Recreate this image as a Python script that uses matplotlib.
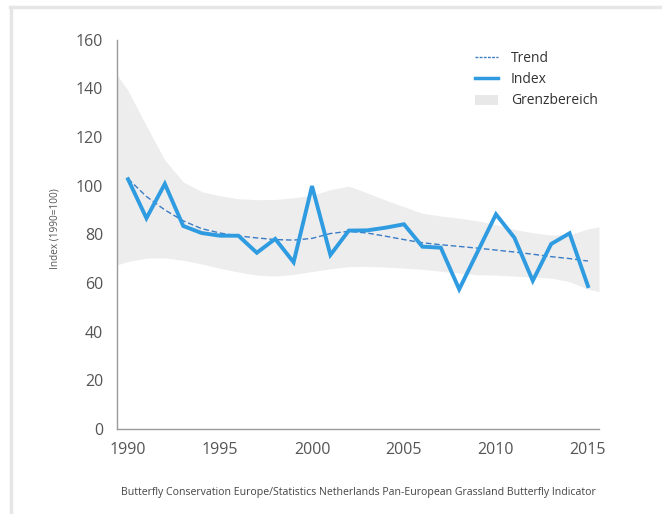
import matplotlib
matplotlib.use("Agg")
import matplotlib.pyplot as plt
from matplotlib.lines import Line2D
from matplotlib.patches import Patch
import numpy as np

years = list(range(1990, 2016))
index_vals = [102.6, 86.6, 100.7, 83.4, 80.5, 79.4, 79.4, 72.4, 78.1, 68.5,
              99.8, 71.5, 81.5, 81.6, 82.7, 84.1, 74.9, 74.5, 57.4, 72.8,
              88.2, 78.6, 60.9, 76.0, 80.4, 58.7]
trend_vals = [102.8, 95.5, 90.0, 85.5, 82.3, 80.5, 79.3, 78.5, 77.8, 77.6,
              78.3, 80.3, 81.2, 80.5, 79.2, 77.8, 76.5, 75.7, 75.0, 74.3,
              73.5, 72.7, 71.8, 70.8, 70.0, 69.0]
band_years = [1989.4] + years + [2015.6]
band_upper = [145.5, 139.0, 124.5, 110.5, 101.5, 97.5, 95.8, 94.6, 94.2, 94.3, 95.0,
              96.0, 98.3, 99.8, 97.0, 94.0, 91.3, 88.6, 87.5, 86.6, 85.5,
              84.0, 82.0, 80.6, 79.7, 79.8, 82.2, 83.1]
band_lower = [67.4, 68.8, 70.2, 70.3, 69.3, 67.8, 66.0, 64.5, 63.2, 62.8, 63.5,
              64.7, 65.8, 66.7, 66.8, 66.5, 66.1, 65.6, 64.8, 64.0, 63.4,
              63.2, 62.8, 62.4, 62.0, 60.5, 57.5, 56.4]
xticks = [1990, 1995, 2000, 2005, 2010, 2015]
yticks = [0, 20, 40, 60, 80, 100, 120, 140, 160]

plt.rcParams['font.family'] = ['Open Sans', 'DejaVu Sans']

fig = plt.figure(figsize=(6.62, 5.14), dpi=100)
ax = fig.add_axes([117/662, 1-429/514, (599-117)/662, (429-39.5)/514])

ax.fill_between(band_years, band_lower, band_upper, color='#ededed', lw=0, zorder=1)
ax.plot(years, trend_vals, color='#3b7cc6', lw=1.0, ls=(0, (4, 2)), zorder=2)
ax.plot(years, index_vals, color='#2f9be0', lw=2.8, solid_joinstyle='miter', zorder=3)

ax.set_xlim(1989.4, 2015.6)
ax.set_ylim(0, 160)
ax.set_xticks(xticks)
ax.set_yticks(yticks)
ax.tick_params(length=0, labelsize=11.5, colors='#555555')
ax.tick_params(axis='y', pad=10)
ax.tick_params(axis='x', pad=9)
for s in ['top', 'right']:
    ax.spines[s].set_visible(False)
for s in ['left', 'bottom']:
    ax.spines[s].set_color('#9a9a9a')
    ax.spines[s].set_linewidth(1.0)

fig.text(55/662, 1-229/514, 'Index (1990=100)', rotation=90, ha='center', va='center',
         fontsize=7.2, color='#555555')
fig.text(358/662, 1-492/514,
         'Butterfly Conservation Europe/Statistics Netherlands Pan-European Grassland Butterfly Indicator',
         ha='center', va='center', fontsize=7.6, color='#444444')

handles = [Line2D([], [], color='#3b7cc6', lw=1.0, ls=(0, (2, 1))),
           Line2D([], [], color='#2f9be0', lw=2.5),
           Patch(facecolor='#e8e8e8', edgecolor='none')]
leg = ax.legend(handles, ['Trend', 'Index', 'Grenzbereich'], loc='upper left',
                bbox_to_anchor=(475/662, 1-51/514), bbox_transform=fig.transFigure,
                frameon=False, fontsize=10, handlelength=1.65, labelspacing=0.45,
                handletextpad=0.95, borderpad=0, borderaxespad=0)
for t in leg.get_texts():
    t.set_color('#333333')

# light frame around figure (top and left)
fig.add_artist(Line2D([10/662, 1], [1-7/514, 1-7/514], transform=fig.transFigure,
                      color='#e6e6e6', lw=2.5))
fig.add_artist(Line2D([10.5/662, 10.5/662], [0, 1-7/514], transform=fig.transFigure,
                      color='#e6e6e6', lw=2.5))

fig.savefig('out.png', dpi=100)
